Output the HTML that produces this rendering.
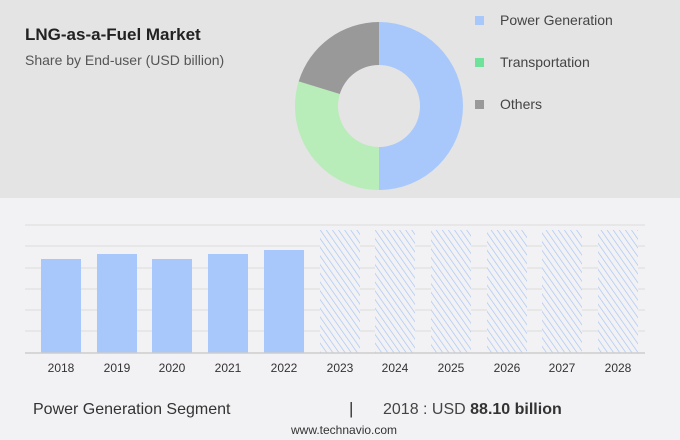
<!DOCTYPE html>
<html><head><meta charset="utf-8"><style>
body{margin:0;width:680px;height:440px;background:#f2f2f4;font-family:"Liberation Sans",sans-serif;position:relative;overflow:hidden}
.top{position:absolute;left:0;top:0;width:680px;height:198px;background:#e4e4e4}
.t{position:absolute;white-space:nowrap}
</style></head><body>
<div class="top"></div>
<div class="t" style="left:25px;top:25px;font-size:17px;font-weight:bold;color:#222">LNG-as-a-Fuel Market</div>
<div class="t" style="left:25px;top:52px;font-size:14px;color:#555">Share by End-user (USD billion)</div>
<svg width="680" height="440" style="position:absolute;left:0;top:0">
<path d="M379,22 A84,84 0 0 1 379,190 L379,147 A41,41 0 0 0 379,65 Z" fill="#a8c8fc"/>
<path d="M379,190 A84,84 0 0 1 298.7,81.4 L339.8,94 A41,41 0 0 0 379,147 Z" fill="#b8ecb8"/>
<path d="M298.7,81.4 A84,84 0 0 1 379,22 L379,65 A41,41 0 0 0 339.8,94 Z" fill="#999"/>
<rect x="475" y="16" width="9" height="9" fill="#a8c8fc"/>
<rect x="475" y="58" width="9" height="9" fill="#6ee29a"/>
<rect x="475" y="100" width="9" height="9" fill="#999"/>
<text x="500" y="25" font-size="14" fill="#444" font-family="Liberation Sans">Power Generation</text>
<text x="500" y="67" font-size="14" fill="#444" font-family="Liberation Sans">Transportation</text>
<text x="500" y="109" font-size="14" fill="#444" font-family="Liberation Sans">Others</text>
<defs><pattern id="h" width="5" height="5" patternUnits="userSpaceOnUse" patternTransform="rotate(-35)"><rect width="5" height="5" fill="#f2f2f4"/><line x1="0" y1="0" x2="0" y2="5" stroke="#a8c5f4" stroke-width="1.4"/></pattern></defs>
<g stroke="#dcdcdc" stroke-width="1">
<line x1="25" y1="225" x2="645" y2="225"/><line x1="25" y1="246" x2="645" y2="246"/><line x1="25" y1="268" x2="645" y2="268"/><line x1="25" y1="289" x2="645" y2="289"/><line x1="25" y1="310" x2="645" y2="310"/><line x1="25" y1="331" x2="645" y2="331"/>
</g>
<g fill="#a8c8fc">
<rect x="41" y="259" width="40" height="94"/><rect x="97" y="254" width="40" height="99"/><rect x="152" y="259" width="40" height="94"/><rect x="208" y="254" width="40" height="99"/><rect x="264" y="250" width="40" height="103"/>
</g>
<g fill="url(#h)">
<rect x="320" y="230" width="40" height="123"/><rect x="375" y="230" width="40" height="123"/><rect x="431" y="230" width="40" height="123"/><rect x="487" y="230" width="40" height="123"/><rect x="542" y="230" width="40" height="123"/><rect x="598" y="230" width="40" height="123"/>
</g>
<line x1="25" y1="353" x2="645" y2="353" stroke="#ccc" stroke-width="1.5"/>
<g font-size="12" fill="#333" text-anchor="middle" font-family="Liberation Sans">
<text x="61" y="372">2018</text><text x="117" y="372">2019</text><text x="172" y="372">2020</text><text x="228" y="372">2021</text><text x="284" y="372">2022</text><text x="340" y="372">2023</text><text x="395" y="372">2024</text><text x="451" y="372">2025</text><text x="507" y="372">2026</text><text x="562" y="372">2027</text><text x="618" y="372">2028</text>
</g>
</svg>
<div class="t" style="left:33px;top:401px;font-size:16px;color:#333">Power Generation Segment</div>
<div class="t" style="left:349px;top:399px;font-size:17px;color:#333">|</div>
<div class="t" style="left:383px;top:401px;font-size:16px;color:#444">2018 : USD <b style="color:#333">88.10 billion</b></div>
<div class="t" style="left:291px;top:423px;font-size:12px;color:#333">www.technavio.com</div>
</body></html>
